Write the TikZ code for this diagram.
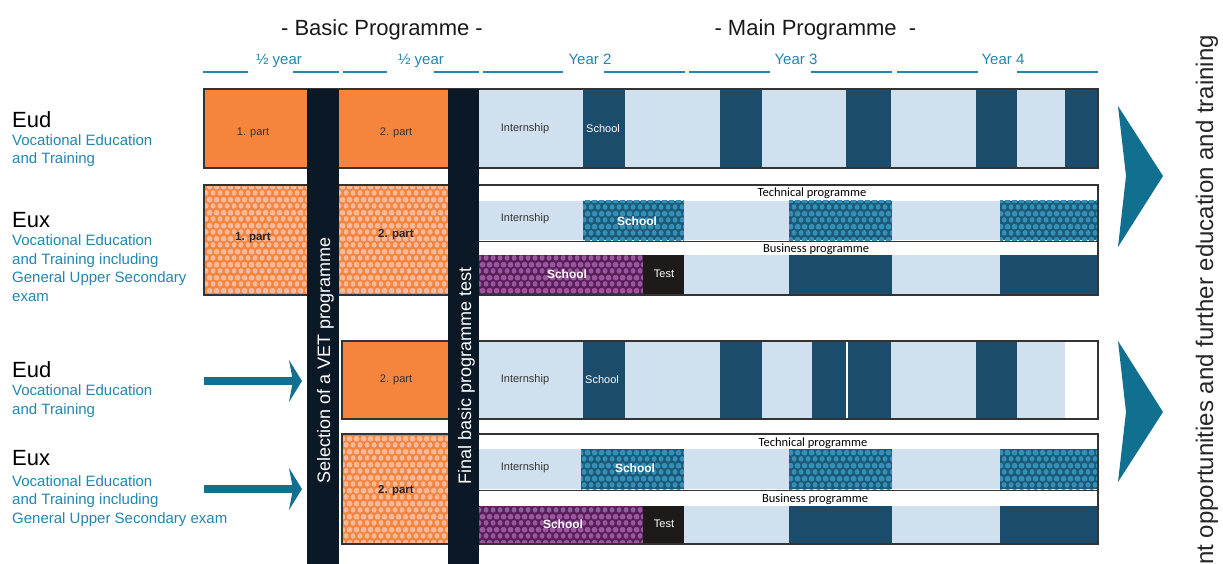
\documentclass[tikz,border=0pt]{standalone}
\usepackage{fontspec}
\setmainfont{Liberation Sans}
\newfontfamily\progfont{Carlito}
\usetikzlibrary{arrows.meta,patterns,positioning}

\definecolor{partorange}{HTML}{F5843C}
\definecolor{partdots}{HTML}{F7B99C}
\definecolor{gatedark}{HTML}{0B1826}
\definecolor{praktik}{HTML}{D1E0EE}
\definecolor{schoolblue}{HTML}{1B4C6B}
\definecolor{techbase}{HTML}{1C5A78}
\definecolor{techdots}{HTML}{3590B8}
\definecolor{busbase}{HTML}{5A1E5D}
\definecolor{busdots}{HTML}{9A589C}
\definecolor{testblack}{HTML}{1E1A1A}
\definecolor{textteal}{HTML}{2286AE}
\definecolor{arrowteal}{HTML}{11708F}

% staggered dots for the EUX blocks
\pgfdeclarepatternformonly{hexdots}{\pgfqpoint{0pt}{0pt}}{\pgfqpoint{7pt}{12.6pt}}{\pgfqpoint{7pt}{12.6pt}}{%
  \pgfpathcircle{\pgfqpoint{3.5pt}{3.15pt}}{2.8pt}%
  \pgfpathcircle{\pgfqpoint{0pt}{9.45pt}}{2.8pt}%
  \pgfpathcircle{\pgfqpoint{7pt}{9.45pt}}{2.8pt}%
  \pgfusepath{fill}}

\tikzset{
  hexfill/.style 2 args={preaction={fill=#1}, pattern=hexdots, pattern color=#2},
  internship/.style={fill=praktik},
  schoolblock/.style={fill=schoolblue},
  testblock/.style={fill=testblack},
  techschool/.style={hexfill={techbase}{techdots}},
  busschool/.style={hexfill={busbase}{busdots}},
  blank/.style={fill=white}
}

\begin{document}
\begin{tikzpicture}[x=1pt,y=-1pt,
    title/.style={font=\fontsize{22}{26}\selectfont, text=black!90},
    yearlbl/.style={font=\fontsize{15}{18}\selectfont, text=textteal, anchor=base},
    ruleline/.style={textteal, line width=1.2pt},
    kind/.style={font=\fontsize{22}{26}\selectfont, anchor=base west, inner sep=0pt},
    desc/.style={font=\fontsize{15}{18.5}\selectfont, text=textteal, anchor=base west, align=left, inner sep=0pt},
    lbl/.style={font=\fontsize{11}{13}\selectfont, text=black!80},
    wlbl/.style={font=\fontsize{11}{13}\selectfont, text=white},
    blbl/.style={font=\bfseries\fontsize{12}{14}\selectfont, text=white},
    plbl/.style={font=\bfseries\fontsize{11.5}{14}\selectfont, text=black!85},
    progname/.style={font=\progfont\fontsize{12.5}{14}\selectfont, inner sep=0pt},
    gatetext/.style={font=\fontsize{18}{22}\selectfont, text=white, rotate=90, anchor=base west, inner sep=0pt},
    frame/.style={draw=black!80, line width=1.5pt},
    flow/.style={arrowteal, line width=8pt, -{Stealth[length=13pt,width=42pt,inset=4pt]}}
  ]
  \useasboundingbox (0,0) rectangle (1223,564);

  % headings
  \node[title, anchor=base] (basic) at (382,36) {- Basic Programme -};
  \node[title, anchor=base west] (main) at (711,36) {- Main Programme\ \ -};
  \node[yearlbl] (half1) at (279,65) {½ year};
  \node[yearlbl] (half2) at (421,65) {½ year};
  \node[yearlbl] (year2) at (590,65) {Year 2};
  \node[yearlbl] (year3) at (796,65) {Year 3};
  \node[yearlbl] (year4) at (1003,65) {Year 4};
  \foreach \a/\b in {203/248,293/339,343/387,434/479,483/563,604/685,689/770,811/892,897/978,1017/1098}
    \draw[ruleline] (\a,72) -- (\b,72);

  % EUD, full route (desc nodes sit on their last baseline)
  \node[kind] (eudA) at (12,128) {Eud};
  \node[desc] (eudAtxt) at (12,164) {Vocational Education\\and Training};
  \fill[partorange] (204,89) rectangle (307,168);
  \fill[partorange] (339,89) rectangle (448,168);
  \foreach \a/\b/\s in {479/583/internship,583/625/schoolblock,625/720/internship,720/762/schoolblock,762/846/internship,846/891/schoolblock,891/976/internship,976/1017/schoolblock,1017/1065/internship,1065/1098/schoolblock}
    \fill[\s] (\a,89) rectangle (\b,168);
  \draw[frame] (204,89) rectangle (1098,168);
  \node[lbl] (partA1) at (253,133) {1. part};
  \node[lbl] (partA2) at (396,133) {2. part};
  \node[lbl] (internA) at (525,129) {Internship};
  \node[wlbl, anchor=west, inner sep=0pt] (schoolA) at (586,129) {School};

  % EUX, full route
  \node[kind] (euxB) at (12,227) {Eux};
  \node[desc] (euxBtxt) at (12,301) {Vocational Education\\and Training including\\General Upper Secondary\\exam};
  \fill[hexfill={partorange}{partdots}] (204,185) rectangle (307,295);
  \fill[hexfill={partorange}{partdots}] (339,185) rectangle (448,295);
  \foreach \a/\b/\s in {479/583/internship,583/684/techschool,684/789/internship,789/892/techschool,892/1000/internship,1000/1098/techschool}
    \fill[\s] (\a,201) rectangle (\b,240);
  \draw[black!80, line width=1pt] (479,241) -- (1098,241);
  \foreach \a/\b/\s in {479/643/busschool,643/684/testblock,684/789/internship,789/892/schoolblock,892/1000/internship,1000/1098/schoolblock}
    \fill[\s] (\a,255) rectangle (\b,295);
  \draw[frame] (204,185) rectangle (1098,295);
  \node[plbl] (partB1) at (253,238) {1. part};
  \node[plbl] (partB2) at (396,235) {2. part};
  \node[progname] (techB) at (812,193) {Technical programme};
  \node[progname] (busB) at (816,249) {Business programme};
  \node[lbl] (internB) at (525,219) {Internship};
  \node[blbl] (schoolB) at (637,221) {School};
  \node[blbl] (schoolBb) at (567,274) {School};
  \node[wlbl] (testB) at (664,274) {Test};

  % EUD, direct to 2. part
  \node[kind] (eudC) at (12,377) {Eud};
  \node[desc] (eudCtxt) at (12,414) {Vocational Education\\and Training};
  \fill[partorange] (342,341) rectangle (448,419);
  \foreach \a/\b/\s in {479/583/internship,583/625/schoolblock,625/720/internship,720/762/schoolblock,762/812/internship,812/846/schoolblock,846/848/blank,848/891/schoolblock,891/976/internship,976/1017/schoolblock,1017/1065/internship,1065/1098/blank}
    \fill[\s] (\a,341) rectangle (\b,419);
  \draw[frame] (342,341) rectangle (1098,419);
  \node[lbl] (partC2) at (396,380) {2. part};
  \node[lbl] (internC) at (525,380) {Internship};
  \node[wlbl, anchor=west, inner sep=0pt] (schoolC) at (585,380) {School};

  % EUX, direct to 2. part
  \node[kind] (euxD) at (12,465) {Eux};
  \node[desc] (euxDtxt) at (12,523) {Vocational Education\\and Training including\\General Upper Secondary exam};
  \fill[hexfill={partorange}{partdots}] (342,434) rectangle (448,544);
  \foreach \a/\b/\s in {479/581/internship,581/684/techschool,684/789/internship,789/892/techschool,892/1000/internship,1000/1098/techschool}
    \fill[\s] (\a,449) rectangle (\b,489);
  \draw[black!80, line width=1pt] (479,490) -- (1098,490);
  \foreach \a/\b/\s in {479/643/busschool,643/684/testblock,684/789/internship,789/892/schoolblock,892/1000/internship,1000/1098/schoolblock}
    \fill[\s] (\a,506) rectangle (\b,544);
  \draw[frame] (342,434) rectangle (1098,544);
  \node[plbl] (partD2) at (396,491) {2. part};
  \node[progname] (techD) at (813,443) {Technical programme};
  \node[progname] (busD) at (815,499) {Business programme};
  \node[lbl] (internD) at (525,468) {Internship};
  \node[blbl] (schoolD) at (635,468) {School};
  \node[blbl] (schoolDb) at (563,524) {School};
  \node[wlbl] (testD) at (664,524) {Test};

  % selection and test gates
  \fill[gatedark] (307,89) rectangle (339,564);
  \fill[gatedark] (448,89) rectangle (479,564);
  \node[gatetext] (selection) at (330,484) {Selection of a VET programme};
  \node[gatetext] (finaltest) at (471,485) {Final basic programme test};

  % entry arrows
  \coordinate (inC) at (204,381);
  \coordinate (gateC) at (302,381);
  \coordinate (inD) at (204,489);
  \coordinate (gateD) at (302,489);
  \draw[flow] (inC) -- (gateC);
  \draw[flow] (inD) -- (gateD);

  % outcome chevrons
  \fill[arrowteal] (1118,106) -- (1163,176) -- (1118,247) -- (1126,176) -- cycle;
  \fill[arrowteal] (1118,341) -- (1163,412) -- (1118,482) -- (1126,412) -- cycle;
  \node[font=\fontsize{24}{28}\selectfont, text=black!85, rotate=90, anchor=base west, inner sep=0pt] (outlook) at (1213,565) {nt opportunities and further education and training};
\end{tikzpicture}
\end{document}
